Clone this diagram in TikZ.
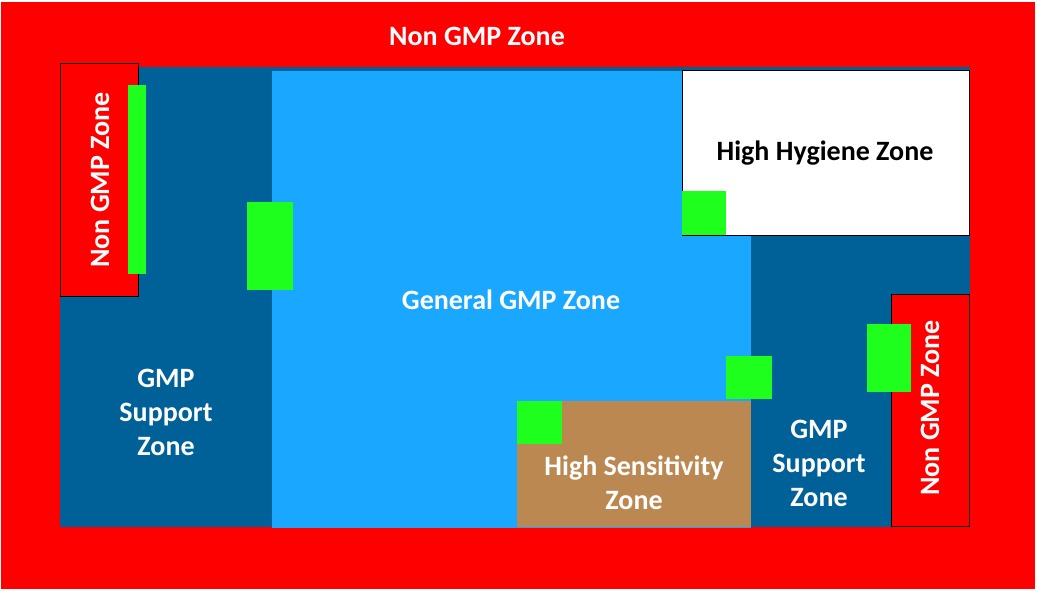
\documentclass[tikz,border=0pt]{standalone}
\usepackage{fontspec}
\setmainfont{Carlito}
\definecolor{zonered}{RGB}{255,0,0}
\definecolor{supportblue}{RGB}{0,97,153}
\definecolor{gmpblue}{RGB}{26,167,255}
\definecolor{sensbrown}{RGB}{186,136,80}
\definecolor{doorgreen}{RGB}{30,255,30}
\tikzset{
  area/.style={rectangle, inner sep=0pt, outer sep=0pt, anchor=north west},
  label/.style={text=white, font=\bfseries\fontsize{28}{34}\selectfont, align=center, inner sep=0pt},
  door/.style={area, fill=doorgreen},
  boxed/.style={area, draw=black, line width=1pt},
}
\begin{document}
\begin{tikzpicture}[x=1pt,y=-1pt]
  % page
  \fill[white] (0,0) rectangle (1037,591);
  \useasboundingbox (0,0) rectangle (1037,591);
  % outer non-GMP area
  \node[area, fill=zonered, minimum width=1034pt, minimum height=587pt] (outer) at (1,2) {};
  % support corridor
  \node[area, fill=supportblue, minimum width=910pt, minimum height=460pt] (support) at (60,67) {};
  % general GMP
  \node[area, fill=gmpblue, minimum width=479pt, minimum height=457pt] (general) at (272,71) {};
  % high hygiene
  \node[boxed, fill=white, minimum width=287pt, minimum height=164pt] (hygiene) at (682,71) {};
  % high sensitivity
  \node[area, fill=sensbrown, minimum width=234pt, minimum height=126pt] (sens) at (517,401) {};
  % side non-GMP rooms
  \node[boxed, fill=zonered, minimum width=78pt, minimum height=232pt] (leftng) at (60,64) {};
  \node[boxed, fill=zonered, minimum width=78pt, minimum height=232pt] (rightng) at (891,294) {};
  % airlocks / doors
  \node[door, minimum width=18pt, minimum height=189pt] (d1) at (128,85) {};
  \node[door, minimum width=46pt, minimum height=88pt] (d2) at (247,202) {};
  \node[door, minimum width=44pt, minimum height=44pt] (d3) at (682,191) {};
  \node[door, minimum width=46pt, minimum height=43pt] (d4) at (726,356) {};
  \node[door, minimum width=44pt, minimum height=68pt] (d5) at (867,324) {};
  \node[door, minimum width=45pt, minimum height=43pt] (d6) at (517,401) {};
  % labels
  \node[label] (t1) at (477,36) {Non GMP Zone};
  \node[label, rotate=90] (t2) at (100,180) {Non GMP Zone};
  \node[label, rotate=90] (t3) at (930,408) {Non GMP Zone};
  \node[label, text=black] (t4) at (825,153) {High Hygiene Zone};
  \node[label] (t5) at (511,300) {General GMP Zone};
  \node[label] (t6) at (166,412) {GMP\\Support\\Zone};
  \node[label] (t7) at (819,463) {GMP\\Support\\Zone};
  \node[label] (t8) at (634,483) {High Sensitivity\\Zone};
\end{tikzpicture}
\end{document}
